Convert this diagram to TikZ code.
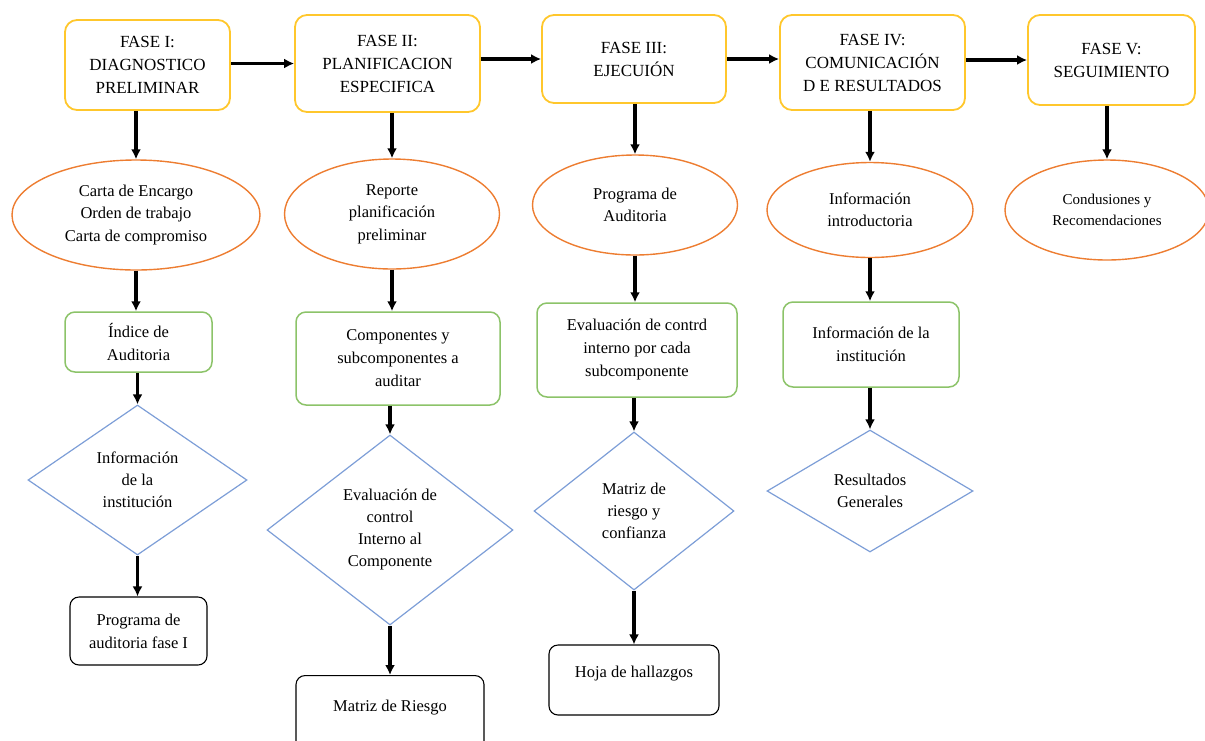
\documentclass[tikz,border=0pt]{standalone}
\usepackage{fontspec}
\setmainfont{Liberation Serif}
\usetikzlibrary{shapes.geometric,arrows.meta}
\definecolor{oro}{RGB}{255,199,44}
\definecolor{naranja}{RGB}{237,125,49}
\definecolor{verde}{RGB}{140,195,105}
\definecolor{azul}{RGB}{125,158,215}

\begin{document}
\begin{tikzpicture}[x=1pt,y=-1pt,
    flecha/.style={-{Latex[length=10pt,width=10pt]},line width=3.2pt},
    fase/.style={rectangle,rounded corners=12pt,draw=oro,line width=1.8pt,inner sep=0pt,align=center,font=\fontsize{17}{23}\selectfont},
    elip/.style={ellipse,draw=naranja,line width=1.4pt,inner sep=0pt,align=center,font=\fontsize{16.5}{22.5}\selectfont},
    caja/.style={rectangle,rounded corners=10pt,draw=verde,line width=1.5pt,inner sep=0pt,align=center,font=\fontsize{16.5}{23}\selectfont},
    rombo/.style={diamond,draw=azul,line width=1.2pt,inner sep=0pt,align=center,font=\fontsize{16.5}{22}\selectfont},
    doc/.style={rectangle,rounded corners=9pt,draw=black,line width=1.1pt,inner sep=0pt,align=center,font=\fontsize{16.5}{23}\selectfont}]
    \useasboundingbox (0,0) rectangle (1205,740);
    % fases
    \node[fase,minimum width=165pt,minimum height=90pt] (f1) at (147.5,65) {FASE I:\\DIAGNOSTICO\\PRELIMINAR};
    \node[fase,minimum width=185pt,minimum height=97pt] (f2) at (387.5,63.5) {FASE II:\\PLANIFICACION\\ESPECIFICA};
    \node[fase,minimum width=184pt,minimum height=88pt] (f3) at (634,59) {FASE III:\\EJECUIÓN};
    \node[fase,minimum width=185pt,minimum height=95pt] (f4) at (872.5,62.5) {FASE IV:\\COMUNICACIÓN\\D E RESULTADOS};
    \node[fase,minimum width=167pt,minimum height=90pt] (f5) at (1111.5,60) {FASE V:\\SEGUIMIENTO};
    \draw[flecha] (f1.east |- f2.west) -- (f2.west);
    \draw[flecha] (f2.east |- f3.east) -- (f3.west);
    \draw[flecha] (f3.east) -- (f3.east -| f4.west);
    \draw[flecha] (f4.east |- f5.east) -- (f5.west);
    % columna 1
    \node[elip,minimum width=248pt,minimum height=110pt] (e1) at (136,215) {Carta de Encargo\\Orden de trabajo\\Carta de compromiso};
    \node[caja,minimum width=147pt,minimum height=60pt] (b1) at (138.5,342) {Índice de\\Auditoria};
    \node[rombo,aspect=1.46,minimum width=219pt,minimum height=150pt] (d1) at (137.5,480) {Información\\de la\\institución};
    \node[doc,minimum width=137pt,minimum height=68pt] (r1) at (138.5,631) {Programa de\\auditoria fase I};
    \draw[flecha] (e1.north |- f1.south) -- (e1.north);
    \draw[flecha] (e1.south) -- (e1.south |- b1.north);
    \draw[flecha] (d1.north |- b1.south) -- (d1.north);
    \draw[flecha] (d1.south) -- (d1.south |- r1.north);
    % columna 2
    \node[elip,minimum width=215pt,minimum height=110pt] (e2) at (392,214) {Reporte\\planificación\\preliminar};
    \node[caja,minimum width=204pt,minimum height=93pt] (b2) at (398,358.5) {Componentes y\\subcomponentes a\\auditar};
    \node[rombo,aspect=1.3,minimum width=246pt,minimum height=190pt] (d2) at (390,530) {Evaluación de\\control\\Interno al\\Componente};
    \node[doc,minimum width=188pt,minimum height=80pt,anchor=north] (r2) at (390,675) {Matriz de Riesgo\\[-3pt]};
    \draw[flecha] (e2.north |- f2.south) -- (e2.north);
    \draw[flecha] (e2.south) -- (e2.south |- b2.north);
    \draw[flecha] (d2.north |- b2.south) -- (d2.north);
    \draw[flecha] (d2.south) -- (r2.north);
    % columna 3
    \node[elip,minimum width=205pt,minimum height=100pt] (e3) at (635,205) {Programa de\\Auditoria};
    \node[caja,minimum width=200pt,minimum height=94pt] (b3) at (637,350) {Evaluación de contrd\\interno por cada\\subcomponente};
    \node[rombo,aspect=1.27,minimum width=200pt,minimum height=158pt] (d3) at (634,511) {Matriz de\\riesgo y\\confianza};
    \node[doc,minimum width=170pt,minimum height=70pt] (r3) at (634,680) {Hoja de hallazgos\\[-6pt]};
    \draw[flecha] (e3.north |- f3.south) -- (e3.north);
    \draw[flecha] (e3.south) -- (e3.south |- b3.north);
    \draw[flecha] (d3.north |- b3.south) -- (d3.north);
    \draw[flecha] (d3.south) -- (r3.north);
    % columna 4
    \node[elip,minimum width=206pt,minimum height=95pt] (e4) at (870,210) {Información\\introductoria};
    \node[caja,minimum width=176pt,minimum height=85pt] (b4) at (871,344.5) {Información de la\\institución};
    \node[rombo,aspect=1.69,minimum width=206pt,minimum height=122pt] (d4) at (870,491) {Resultados\\Generales};
    \draw[flecha] (e4.north |- f4.south) -- (e4.north);
    \draw[flecha] (e4.south) -- (e4.south |- b4.north);
    \draw[flecha] (d4.north |- b4.south) -- (d4.north);
    % columna 5
    \node[elip,minimum width=204pt,minimum height=100pt,font=\fontsize{15}{21}\selectfont] (e5) at (1107,210) {Condusiones y\\Recomendaciones};
    \draw[flecha] (e5.north |- f5.south) -- (e5.north);
\end{tikzpicture}
\end{document}
